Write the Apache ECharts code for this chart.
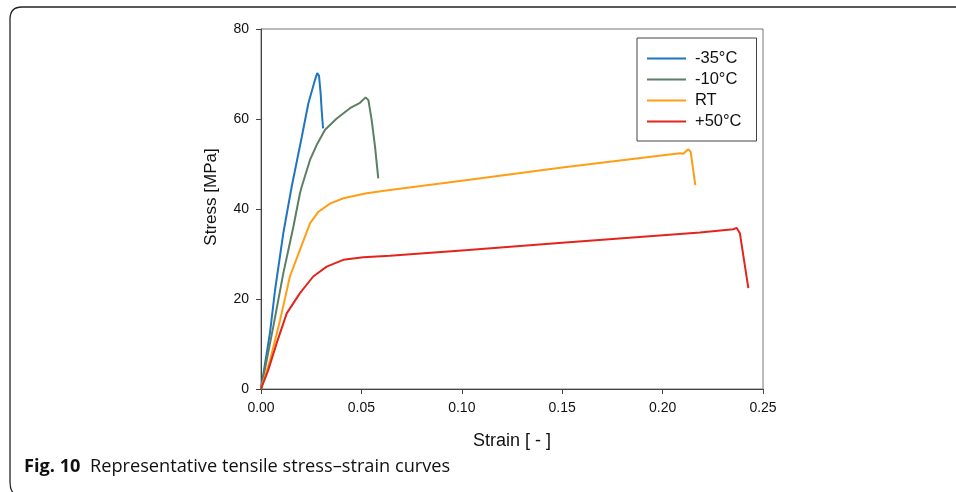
<!DOCTYPE html>
<html>
<head>
<meta charset="utf-8">
<script src="https://cdn.jsdelivr.net/npm/echarts@6/dist/echarts.min.js"></script>
<style>
html,body{margin:0;padding:0;background:#fff;}
#chart{width:956px;height:492px;}
</style>
</head>
<body>
<div id="chart"></div>
<script>
var seriesNames = ['-35°C', '-10°C', 'RT', '+50°C'];
var xTicks = [0, 0.05, 0.10, 0.15, 0.20, 0.25];
var yTicks = [0, 20, 40, 60, 80];

var strainM35 = [0, 0.0045, 0.007, 0.0111, 0.0153, 0.0203, 0.0236, 0.0269, 0.028, 0.0289, 0.0297, 0.0302, 0.0309];
var stressM35 = [0, 12.6, 22, 34.6, 45, 56, 63.5, 68.7, 70.2, 69.6, 65.7, 62, 57.9];

var strainM10 = [0, 0.0061, 0.0111, 0.0161, 0.0194, 0.0203, 0.0244, 0.0277, 0.0319, 0.0377, 0.0443, 0.0493, 0.0521, 0.0535, 0.0551, 0.0568, 0.0584];
var stressM10 = [0, 13.8, 25.7, 36, 43.5, 45, 50.9, 54.2, 57.6, 60.1, 62.4, 63.6, 64.8, 64.2, 59.8, 53.8, 46.8];

var strainRT = [0, 0.0045, 0.0095, 0.0144, 0.0194, 0.0244, 0.0286, 0.0344, 0.041, 0.0526, 0.0642, 0.1, 0.15, 0.2087, 0.2103, 0.2128, 0.214, 0.215, 0.2163];
var stressRT = [0, 6.4, 15.3, 25, 30.9, 36.8, 39.4, 41.2, 42.4, 43.5, 44.2, 46.3, 49.2, 52.4, 52.3, 53.3, 52.7, 49.4, 45.3];

var strainP50 = [0, 0.0036, 0.0078, 0.0128, 0.0194, 0.026, 0.0327, 0.041, 0.0509, 0.0642, 0.1, 0.15, 0.2186, 0.2352, 0.2369, 0.2385, 0.2427];
var stressP50 = [0, 4.2, 10.2, 16.8, 21.3, 25, 27.2, 28.7, 29.3, 29.6, 30.8, 32.5, 34.8, 35.5, 35.8, 34.6, 22.4];

var colors = ['#1f76bf', '#5c7f63', '#ff9e14', '#e3241c'];

function pairs(xs, ys) { return xs.map(function (x, i) { return [x, ys[i]]; }); }

var allData = [pairs(strainM35, stressM35), pairs(strainM10, stressM10), pairs(strainRT, stressRT), pairs(strainP50, stressP50)];

var chart = echarts.init(document.getElementById('chart'), null, {renderer: 'canvas'});
var font = 'Liberation Sans, Arial, sans-serif';
var capFont = 'Open Sans, Noto Sans, sans-serif';
var frameStyle = {fill: 'none', stroke: '#222', lineWidth: 1.3};

chart.setOption({
  animation: false,
  backgroundColor: '#fff',
  color: colors,
  grid: {left: 261, right: 193, top: 29, bottom: 103, show: true, borderColor: '#777', borderWidth: 1, backgroundColor: 'transparent'},
  legend: {
    orient: 'vertical', left: 637, top: 38,
    data: seriesNames.map(function (n) { return {name: n, icon: 'rect'}; }),
    itemWidth: 39, itemHeight: 2, itemGap: 4,
    padding: [12, 15, 11, 10],
    borderColor: '#444', borderWidth: 1,
    textStyle: {fontFamily: font, fontSize: 16.5, color: '#111', padding: [0, 0, 0, 4]}
  },
  xAxis: {
    type: 'value', min: 0, max: 0.25, interval: 0.05,
    name: 'Strain [ - ]', nameLocation: 'middle', nameGap: 43,
    nameTextStyle: {fontFamily: font, fontSize: 18, color: '#111'},
    axisLine: {show: true, onZero: false, lineStyle: {color: '#444', width: 1}},
    axisTick: {show: true, length: 5, lineStyle: {color: '#444'}},
    axisLabel: {fontFamily: font, fontSize: 14, color: '#111', margin: 12, formatter: function (v) { return v.toFixed(2); }},
    splitLine: {show: false}
  },
  yAxis: {
    type: 'value', min: 0, max: 80, interval: 20,
    axisLine: {show: true, onZero: false, lineStyle: {color: '#444', width: 1}},
    axisTick: {show: true, length: 5, lineStyle: {color: '#444'}},
    axisLabel: {fontFamily: font, fontSize: 14, color: '#111', margin: 12},
    splitLine: {show: false}
  },
  graphic: [
    {type: 'polyline', silent: true, shape: {points: [[956, 7], [22, 7]]}, style: frameStyle},
    {type: 'bezierCurve', silent: true, shape: {x1: 22, y1: 7, x2: 10, y2: 19, cpx1: 10, cpy1: 7}, style: frameStyle},
    {type: 'polyline', silent: true, shape: {points: [[10, 19], [10, 482]]}, style: frameStyle},
    {type: 'bezierCurve', silent: true, shape: {x1: 10, y1: 482, x2: 14, y2: 494, cpx1: 10, cpy1: 490}, style: frameStyle},
    {type: 'text', silent: true, x: 211, y: 197, rotation: Math.PI / 2,
     style: {text: 'Stress [MPa]', fontFamily: font, fontSize: 17, fill: '#111', align: 'center', verticalAlign: 'middle'}},
    {type: 'text', silent: true, x: 24, y: 458,
     style: {rich: {b: {fontFamily: capFont, fontWeight: 'bold', fontSize: 18.2, fill: '#111'}, n: {fontFamily: capFont, fontSize: 18.2, fill: '#111'}},
             text: '{b|Fig. 10}{n|  Representative tensile stress\u2013strain curves}'}}
  ],
  series: seriesNames.map(function (n, i) {
    return {name: n, type: 'line', data: allData[i], symbol: 'none', smooth: false,
            lineStyle: {width: 2, color: colors[i]}, itemStyle: {color: colors[i]}, z: 3};
  })
});
</script>
</body>
</html>
